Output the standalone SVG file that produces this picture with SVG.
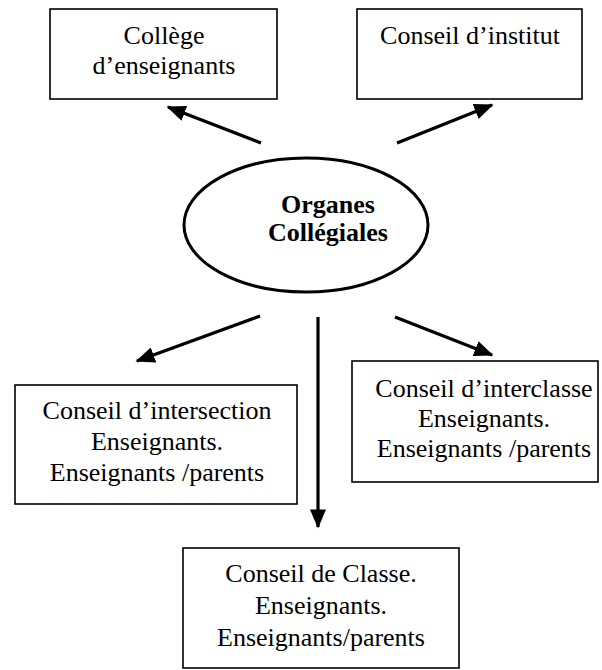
<svg xmlns="http://www.w3.org/2000/svg" width="602" height="670" viewBox="0 0 602 670">
<defs>
<style>
.box{fill:#fff;stroke:#000;stroke-width:1.6}
text{font-family:'Liberation Serif','DejaVu Serif',serif;font-size:26px;fill:#000;text-anchor:middle}
.b{font-weight:bold}
.c{stroke:#000;stroke-width:3.2;fill:none;marker-end:url(#ah)}
</style>
<marker id="ah" viewBox="0 0 6 5" refX="5.5" refY="2.5" markerWidth="6" markerHeight="5" orient="auto">
<path d="M0,0 L6,2.5 L0,5 Z" fill="#000"/>
</marker>
</defs>
<rect width="602" height="670" fill="#fff"/>
<g id="college">
<rect class="box" x="50" y="9" width="227" height="90"/>
<text x="164" y="44">Collège</text>
<text x="164" y="74">d’enseignants</text>
</g>
<g id="institut">
<rect class="box" x="357" y="9" width="225" height="90"/>
<text x="470" y="44">Conseil d’institut</text>
</g>
<g id="organes">
<ellipse cx="306" cy="225" rx="122" ry="67" fill="#fff" stroke="#000" stroke-width="3"/>
<text class="b" x="328" y="213">Organes</text>
<text class="b" x="328" y="241">Collégiales</text>
</g>
<g id="intersection">
<rect class="box" x="15" y="385" width="282" height="119"/>
<text x="157" y="419">Conseil d’intersection</text>
<text x="157" y="450">Enseignants.</text>
<text x="157" y="481">Enseignants /parents</text>
</g>
<g id="interclasse">
<rect class="box" x="352" y="361" width="246" height="121"/>
<text x="484" y="397">Conseil d’interclasse</text>
<text x="484" y="427">Enseignants.</text>
<text x="484" y="457">Enseignants /parents</text>
</g>
<g id="classe">
<rect class="box" x="183" y="548" width="276" height="120"/>
<text x="321" y="582">Conseil de Classe.</text>
<text x="321" y="614">Enseignants.</text>
<text x="321" y="646">Enseignants/parents</text>
</g>
<g id="connectors">
<line class="c" x1="261" y1="143" x2="168" y2="107"/>
<line class="c" x1="397" y1="143" x2="492" y2="105"/>
<line class="c" x1="260" y1="316" x2="137" y2="361"/>
<line class="c" x1="318" y1="317" x2="318" y2="527"/>
<line class="c" x1="395" y1="317" x2="492" y2="355"/>
</g>
</svg>
